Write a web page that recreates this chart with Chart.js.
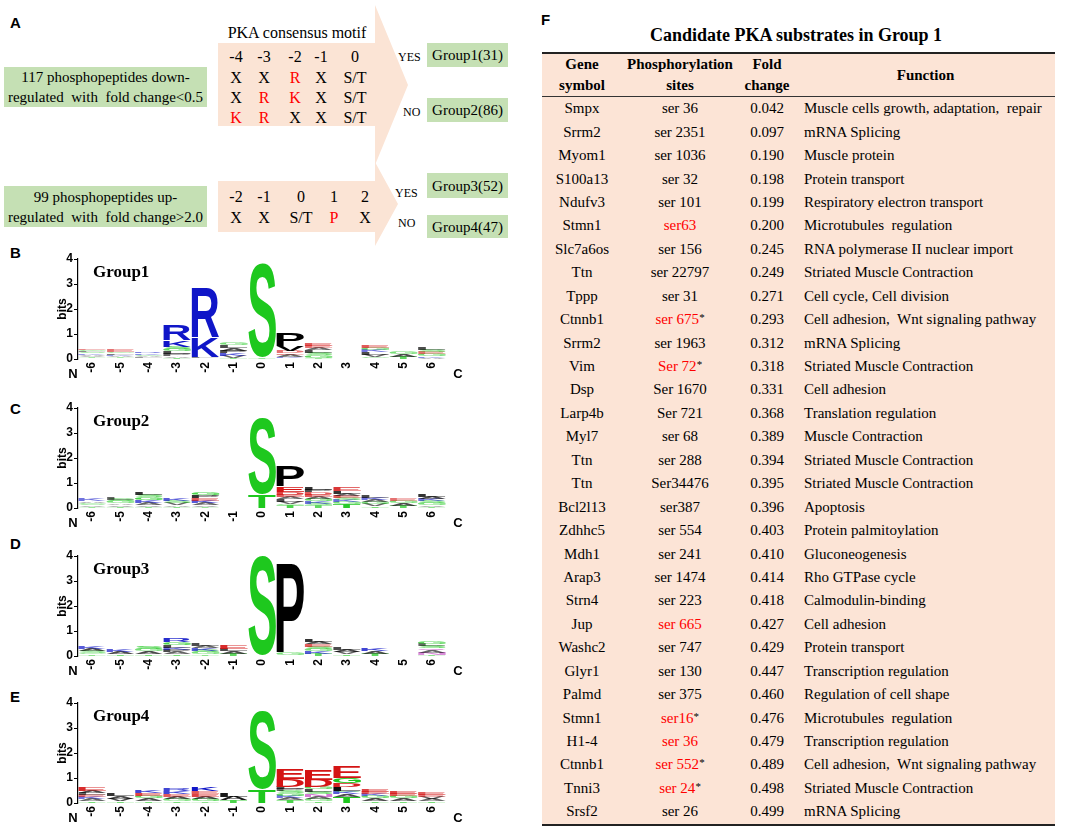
<!DOCTYPE html>
<html lang="en">
<head>
<meta charset="UTF-8">
<title>PKA consensus motif and candidate substrates</title>
<script src="https://cdn.jsdelivr.net/npm/chart.js@4.4.1/dist/chart.umd.min.js"></script>
<style>
  body { margin: 0; width: 1084px; height: 828px; overflow: hidden; background: #fff; position: relative;
         font-family: "Liberation Serif", "Times New Roman", serif; color: #000; }
  .abs { position: absolute; }
  .plab { position: absolute; font: bold 15px "Liberation Sans", Arial, sans-serif; transform: translateY(-50%); }
  .gbox { position: absolute; background: #c5e0b4; display: flex; align-items: center; justify-content: center;
          text-align: center; font-size: 15px; line-height: 20px; white-space: nowrap; }
  .tok { position: absolute; transform: translate(-50%, -50%); font-size: 16px; white-space: nowrap; }
  .yn { position: absolute; transform: translateY(-50%); font-size: 12px; }
  .red { color: #ff0000; }
  canvas.logo { position: absolute; left: 55px; }
  #tbl { position: absolute; left: 542px; top: 52px; width: 513px; border-collapse: collapse; table-layout: fixed;
         background: #fce4d6; font-size: 15px; }
  #tbl th { font-weight: bold; line-height: 21px; height: 41px; padding: 0; border-top: 2px solid #222;
            border-bottom: 1.5px solid #333; vertical-align: middle; }
  #tbl td { height: 23.45px; padding: 0; line-height: 23px; text-align: center; white-space: pre; }
  #tbl td.fn { text-align: left; padding-left: 8px; }
  #tbl tr:last-child td { border-bottom: 2px solid #222; }
  sup { font-size: 11px; color: #000; vertical-align: 3px; line-height: 0; }
</style>
</head>
<body>
  <!-- panel A -->
  <div class="plab" style="left:10px;top:22px">A</div>
  <svg class="abs" style="left:0;top:0" width="540" height="260">
    <polygon points="218,43 375,43 375,5 408,85 375,165 375,126 218,126" fill="#fbe4d5"/>
    <polygon points="218,181 375,181 375,162 398,204 375,246 375,232 218,232" fill="#fbe4d5"/>
  </svg>
  <div class="gbox" style="left:4px;top:67px;width:203px;height:40px">117 phosphopeptides down-<br>regulated&nbsp; with&nbsp; fold change&lt;0.5</div>
  <div class="gbox" style="left:4px;top:186px;width:203px;height:41px">99 phosphopeptides up-<br>regulated&nbsp; with&nbsp; fold change&gt;2.0</div>
  <div class="tok" style="left:297px;top:33px">PKA consensus motif</div>
  <div class="yn" style="left:398px;top:57px">YES</div>
  <div class="yn" style="left:403px;top:112px">NO</div>
  <div class="yn" style="left:395px;top:193px">YES</div>
  <div class="yn" style="left:398px;top:223px">NO</div>
  <div class="gbox" style="left:427px;top:43px;width:81px;height:24px">Group1(31)</div>
  <div class="gbox" style="left:427px;top:98px;width:81px;height:24px">Group2(86)</div>
  <div class="gbox" style="left:427px;top:173px;width:81px;height:25px">Group3(52)</div>
  <div class="gbox" style="left:427px;top:215px;width:81px;height:23px">Group4(47)</div>
  <div id="motifs"></div>

  <!-- panels B-E -->
  <div class="plab" style="left:10px;top:252px">B</div>
  <div class="plab" style="left:10px;top:408px">C</div>
  <div class="plab" style="left:10px;top:543px">D</div>
  <div class="plab" style="left:10px;top:696px">E</div>
  <canvas class="logo" id="logo1" width="415" height="138" style="top:249px"></canvas>
  <canvas class="logo" id="logo2" width="415" height="138" style="top:398px"></canvas>
  <canvas class="logo" id="logo3" width="415" height="138" style="top:546px"></canvas>
  <canvas class="logo" id="logo4" width="415" height="138" style="top:693px"></canvas>

  <!-- panel F -->
  <div class="plab" style="left:541px;top:19px">F</div>
  <div class="tok" style="left:796px;top:35px;font-size:18px;font-weight:bold">Candidate PKA substrates in Group 1</div>
  <table id="tbl">
    <colgroup><col style="width:80px"><col style="width:116px"><col style="width:58px"><col style="width:259px"></colgroup>
    <thead><tr><th>Gene<br>symbol</th><th>Phosphorylation<br>sites</th><th>Fold<br>change</th><th>Function</th></tr></thead>
    <tbody id="rows"></tbody>
  </table>

<script>
// motif in panel A
const motifCols1 = ['-4', '-3', '-2', '-1', '0'];
const motifRows1 = [['X', 'X', 'R', 'X', 'S/T'], ['X', 'R', 'K', 'X', 'S/T'], ['K', 'R', 'X', 'X', 'S/T']];
const motifCols2 = ['-2', '-1', '0', '1', '2'];
const motifRows2 = [['X', 'X', 'S/T', 'P', 'X']];

// sequence logo positions
const positions = ['-6', '-5', '-4', '-3', '-2', '-1', '0', '1', '2', '3', '4', '5', '6'];

// letters per position, bottom to top, with their heights in bits
const group1Letters = ['QTVAKSLGE', 'VTAKLGE', 'TLAGKR', 'TAPLGSKR', 'ALKR', 'TVKPALG', 'TS', 'NKAEDVP', 'TGSLAEE', '',
  'TGVLKGE', 'TAG', 'AKGESL'];
const group1Bits = [[0.04, 0.04, 0.04, 0.05, 0.05, 0.05, 0.05, 0.06, 0.06], [0.04, 0.04, 0.05, 0.05, 0.06, 0.06, 0.08],
  [0.04, 0.04, 0.04, 0.05, 0.06, 0.07], [0.06, 0.06, 0.08, 0.1, 0.1, 0.1, 0.27, 0.6], [0.04, 0.05, 0.78, 1.93],
  [0.06, 0.08, 0.1, 0.1, 0.1, 0.1, 0.08], [0.05, 3.72], [0.04, 0.06, 0.08, 0.06, 0.08, 0.18, 0.54],
  [0.05, 0.1, 0.1, 0.1, 0.08, 0.08, 0.1], [], [0.04, 0.06, 0.08, 0.1, 0.08, 0.08, 0.1], [0.1, 0.1, 0.08],
  [0.06, 0.06, 0.08, 0.08, 0.08, 0.1]];

const group2Letters = ['TVSGAK', 'TVAGSL', 'TVAKGSL', 'TAVSK', 'TVAKEPG', '', 'TS', 'TGVLAEDEP', 'TSKGAEDPL', 'TGKSEALE',
  'TVGAKL', 'TAGE', 'TVGSKAL'];
const group2Bits = [[0.05, 0.05, 0.05, 0.06, 0.07, 0.08], [0.06, 0.06, 0.06, 0.08, 0.08, 0.08],
  [0.06, 0.06, 0.08, 0.1, 0.12, 0.1, 0.12], [0.06, 0.06, 0.08, 0.08, 0.1], [0.05, 0.06, 0.08, 0.1, 0.1, 0.12, 0.12], [],
  [0.55, 3.05], [0.12, 0.06, 0.08, 0.1, 0.08, 0.1, 0.12, 0.2, 0.8], [0.1, 0.08, 0.08, 0.1, 0.08, 0.1, 0.1, 0.1, 0.12],
  [0.15, 0.08, 0.08, 0.08, 0.1, 0.08, 0.12, 0.13], [0.08, 0.08, 0.08, 0.08, 0.08, 0.1], [0.1, 0.1, 0.08, 0.08],
  [0.06, 0.06, 0.08, 0.08, 0.08, 0.1, 0.12]];

const group3Letters = ['TGSAK', 'TAK', 'TAGS', 'TAPKLGR', 'TGSKAL', 'TALE', 'S', 'TGP', 'TKGSEAL', 'TVAL', 'TAK', '',
  'TNAQSLG'];
const group3Bits = [[0.06, 0.06, 0.08, 0.1, 0.1], [0.08, 0.1, 0.1], [0.08, 0.1, 0.08, 0.12],
  [0.08, 0.08, 0.1, 0.08, 0.1, 0.12, 0.14], [0.06, 0.08, 0.08, 0.1, 0.08, 0.1], [0.1, 0.1, 0.1, 0.14], [3.95],
  [0.04, 0.08, 3.6], [0.1, 0.1, 0.08, 0.1, 0.1, 0.1, 0.12], [0.08, 0.08, 0.1, 0.1], [0.1, 0.1, 0.12], [],
  [0.06, 0.08, 0.08, 0.08, 0.1, 0.08, 0.1]];

const group4Letters = ['TAKELAE', 'TVAL', 'TAGEK', 'TGAEKR', 'TGAEEK', 'TAL', 'TS', 'TAKGSPLDE', 'TGANSLGDE', 'TAKSLDGE',
  'TAGKEE', 'TAGEE', 'TAVEE'];
const group4Bits = [[0.08, 0.08, 0.08, 0.08, 0.08, 0.1, 0.14], [0.08, 0.1, 0.1, 0.12], [0.08, 0.1, 0.1, 0.12, 0.12],
  [0.08, 0.08, 0.1, 0.1, 0.12, 0.12], [0.06, 0.1, 0.1, 0.12, 0.1, 0.16], [0.12, 0.14, 0.14], [0.55, 3.08],
  [0.12, 0.08, 0.08, 0.1, 0.1, 0.08, 0.1, 0.3, 0.38], [0.08, 0.08, 0.08, 0.1, 0.1, 0.1, 0.1, 0.3, 0.4],
  [0.25, 0.1, 0.1, 0.05, 0.15, 0.15, 0.2, 0.44], [0.08, 0.1, 0.1, 0.08, 0.1, 0.12], [0.08, 0.1, 0.1, 0.1, 0.12],
  [0.08, 0.08, 0.08, 0.08, 0.1]];

// table F
const genes = ['Smpx', 'Srrm2', 'Myom1', 'S100a13', 'Ndufv3', 'Stmn1', 'Slc7a6os', 'Ttn', 'Tppp', 'Ctnnb1', 'Srrm2', 'Vim',
  'Dsp', 'Larp4b', 'Myl7', 'Ttn', 'Ttn', 'Bcl2l13', 'Zdhhc5', 'Mdh1', 'Arap3', 'Strn4', 'Jup', 'Washc2', 'Glyr1', 'Palmd',
  'Stmn1', 'H1-4', 'Ctnnb1', 'Tnni3', 'Srsf2'];
const sites = ['ser 36', 'ser 2351', 'ser 1036', 'ser 32', 'ser 101', 'ser63', 'ser 156', 'ser 22797', 'ser 31', 'ser 675',
  'ser 1963', 'Ser 72', 'Ser 1670', 'Ser 721', 'ser 68', 'ser 288', 'Ser34476', 'ser387', 'ser 554', 'ser 241', 'ser 1474',
  'ser 223', 'ser 665', 'ser 747', 'ser 130', 'ser 375', 'ser16', 'ser 36', 'ser 552', 'ser 24', 'ser 26'];
const foldChanges = ['0.042', '0.097', '0.190', '0.198', '0.199', '0.200', '0.245', '0.249', '0.271', '0.293', '0.312',
  '0.318', '0.331', '0.368', '0.389', '0.394', '0.395', '0.396', '0.403', '0.410', '0.414', '0.418', '0.427', '0.429',
  '0.447', '0.460', '0.476', '0.479', '0.489', '0.498', '0.499'];
const functions = ['Muscle cells growth, adaptation,  repair', 'mRNA Splicing', 'Muscle protein', 'Protein transport',
  'Respiratory electron transport', 'Microtubules  regulation', 'RNA polymerase II nuclear import',
  'Striated Muscle Contraction', 'Cell cycle, Cell division', 'Cell adhesion,  Wnt signaling pathway', 'mRNA Splicing',
  'Striated Muscle Contraction', 'Cell adhesion', 'Translation regulation', 'Muscle Contraction',
  'Striated Muscle Contraction', 'Striated Muscle Contraction', 'Apoptosis', 'Protein palmitoylation', 'Gluconeogenesis',
  'Rho GTPase cycle', 'Calmodulin-binding', 'Cell adhesion', 'Protein transport', 'Transcription regulation',
  'Regulation of cell shape', 'Microtubules  regulation', 'Transcription regulation',
  'Cell adhesion,  Wnt signaling pathway', 'Striated Muscle Contraction', 'mRNA Splicing'];
const redRows = [5, 9, 11, 22, 26, 27, 28, 29];
const starRows = [9, 11, 26, 28, 29];

// motif tokens
function addMotif(cols, rows, xs, y0, dy) {
  const box = document.getElementById('motifs');
  const put = (txt, x, y) => {
    const d = document.createElement('div');
    d.className = 'tok' + (/^[RKP]$/.test(txt) ? ' red' : '');
    d.style.left = x + 'px';
    d.style.top = y + 'px';
    d.textContent = txt;
    box.appendChild(d);
  };
  cols.forEach((c, i) => put(c, xs[i], y0));
  rows.forEach((r, k) => r.forEach((t, i) => put(t, xs[i], y0 + dy * (k + 1) + 1)));
}
addMotif(motifCols1, motifRows1, [236, 264, 295, 321, 355], 57, 20);
addMotif(motifCols2, motifRows2, [236, 264, 301, 334, 365], 197, 20);

// table rows
const tbody = document.getElementById('rows');
genes.forEach((g, i) => {
  const tr = document.createElement('tr');
  let site = sites[i];
  if (redRows.includes(i)) site = '<span class="red">' + site + '</span>';
  if (starRows.includes(i)) site += '<sup>*</sup>';
  tr.innerHTML = '<td>' + g + '</td><td>' + site + '</td><td>' + foldChanges[i] + '</td><td class="fn">' + functions[i] + '</td>';
  tbody.appendChild(tr);
});

// logos
const letterColors = { G: '#1ec81e', S: '#1ec81e', T: '#1ec81e', Y: '#1ec81e', C: '#1ec81e',
  K: '#1016c8', R: '#1016c8', H: '#1016c8', D: '#d41414', E: '#d41414', N: '#c040c0', Q: '#c040c0' };

function drawLetter(ctx, ch, x, y, w, h, bits) {
  if (!ch || h < 0.3) return;
  ctx.save();
  ctx.font = 'bold 100px "Liberation Sans", Arial, sans-serif';
  ctx.textAlign = 'left';
  ctx.textBaseline = 'alphabetic';
  const m = ctx.measureText(ch);
  const gw = m.actualBoundingBoxLeft + m.actualBoundingBoxRight;
  const gh = m.actualBoundingBoxAscent + m.actualBoundingBoxDescent;
  // thin letters come out faint, as in the original logos
  ctx.globalAlpha = Math.min(1, 0.2 + bits * 5);
  ctx.fillStyle = letterColors[ch] || '#000';
  ctx.translate(x, y);
  ctx.scale(w / gw, h / gh);
  ctx.fillText(ch, m.actualBoundingBoxLeft, m.actualBoundingBoxAscent);
  ctx.restore();
}

const logoLetters = {
  id: 'logoLetters',
  afterDatasetsDraw(chart) {
    const ctx = chart.ctx;
    chart.data.datasets.forEach((ds, i) => {
      chart.getDatasetMeta(i).data.forEach((bar, j) => {
        const v = ds.data[j];
        if (!v) return;
        const p = bar.getProps(['x', 'y', 'base', 'width'], true);
        drawLetter(ctx, ds.letters[j], p.x - p.width / 2, Math.min(p.y, p.base), p.width, Math.abs(p.base - p.y), v);
      });
    });
  },
  afterDraw(chart, args, opts) {
    const ctx = chart.ctx;
    const a = chart.chartArea;
    ctx.save();
    ctx.fillStyle = '#000';
    ctx.font = 'bold 13px "Liberation Sans", Arial, sans-serif';
    ctx.textAlign = 'center';
    ctx.textBaseline = 'middle';
    ctx.fillText('N', a.left - 5, a.bottom + 15);
    ctx.fillText('C', a.right + 12, a.bottom + 15);
    ctx.font = 'bold 17px "Liberation Serif", "Times New Roman", serif';
    ctx.textAlign = 'left';
    ctx.fillText(opts.title, a.left + 15, a.top + 14);
    ctx.restore();
  }
};

function buildLayers(letters, bits) {
  const depth = Math.max(...letters.map(s => s.length));
  const sets = [];
  for (let k = 0; k < depth; k++) {
    sets.push({
      data: bits.map(b => b[k] || 0),
      letters: letters.map(s => s[k] || ''),
      backgroundColor: 'rgba(0,0,0,0)',
      borderWidth: 0,
      barPercentage: 0.98,
      categoryPercentage: 1
    });
  }
  return sets;
}

const axisFont = { family: '"Liberation Sans", Arial, sans-serif', weight: 'bold', size: 12 };

function makeLogo(id, letters, bits, title) {
  new Chart(document.getElementById(id), {
    type: 'bar',
    data: { labels: positions, datasets: buildLayers(letters, bits) },
    plugins: [logoLetters],
    options: {
      responsive: false,
      animation: false,
      layout: { padding: { top: 10, right: 24, left: 0, bottom: 0 } },
      plugins: { legend: { display: false }, tooltip: { enabled: false }, logoLetters: { title: title } },
      scales: {
        x: {
          stacked: true,
          grid: { display: false, drawTicks: false },
          border: { display: false },
          ticks: { autoSkip: false, minRotation: 90, maxRotation: 90, color: '#000', padding: 3, font: axisFont },
          afterFit(s) { s.height = 28; }
        },
        y: {
          stacked: true,
          min: 0,
          max: 4,
          ticks: { stepSize: 1, color: '#000', padding: 1, font: axisFont },
          grid: { display: true, drawOnChartArea: false, drawTicks: true, tickLength: 4, color: '#000', lineWidth: 1 },
          border: { display: true, color: '#000', width: 1.2 },
          title: { display: true, text: 'bits', color: '#000', padding: 0, font: axisFont },
          afterFit(s) { s.width = 23; }
        }
      }
    }
  });
}

makeLogo('logo1', group1Letters, group1Bits, 'Group1');
makeLogo('logo2', group2Letters, group2Bits, 'Group2');
makeLogo('logo3', group3Letters, group3Bits, 'Group3');
makeLogo('logo4', group4Letters, group4Bits, 'Group4');
</script>
</body>
</html>
